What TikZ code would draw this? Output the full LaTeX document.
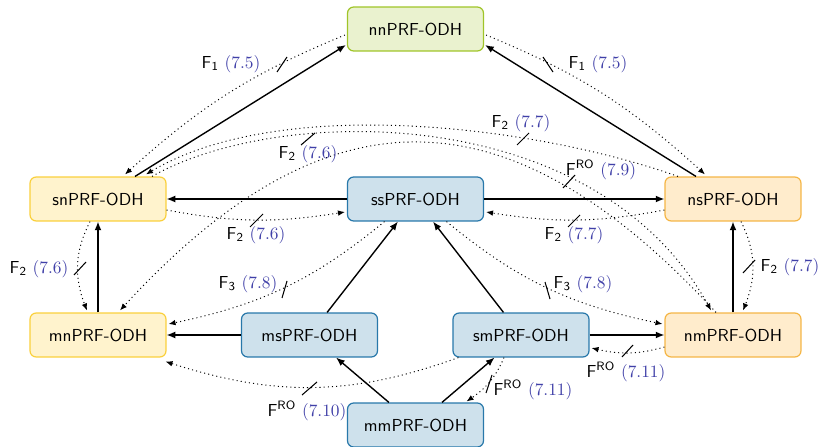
\documentclass[tikz,border=0pt]{standalone}
\usetikzlibrary{arrows.meta,calc,bending}
\definecolor{eqblue}{RGB}{64,64,168}
\definecolor{nnfill}{RGB}{234,242,207}
\definecolor{nndraw}{RGB}{160,196,40}
\definecolor{yfill}{RGB}{255,243,205}
\definecolor{ydraw}{RGB}{250,208,60}
\definecolor{ofill}{RGB}{255,236,204}
\definecolor{odraw}{RGB}{245,182,70}
\definecolor{bfill}{RGB}{206,225,236}
\definecolor{bdraw}{RGB}{40,120,170}
\newcommand{\seplab}[2]{$\mathsf{F}_{\mathsf{#1}}$\ {\color{eqblue}(#2)}}
\newcommand{\roplab}[1]{$\mathsf{F}^{\mathsf{RO}}$\ {\color{eqblue}(#1)}}
\begin{document}
\begin{tikzpicture}[x=0.576pt,y=-0.576pt,
  box/.style={draw,rounded corners=3.5pt,line width=0.7pt,minimum width=78.3pt,minimum height=25.3pt,font=\sffamily,inner sep=0pt},
  nnbox/.style={box,fill=nnfill,draw=nndraw},
  ybox/.style={box,fill=yfill,draw=ydraw},
  obox/.style={box,fill=ofill,draw=odraw},
  bbox/.style={box,fill=bfill,draw=bdraw},
  imp/.style={line width=0.8pt,-{Latex[length=5pt,width=4pt]}},
  sep/.style={line width=0.55pt,dash pattern=on 0.6pt off 1.8pt,-{Latex[length=4pt,width=3.2pt]}},
  sepmark/.style={line width=0.6pt},
  lab/.style={inner sep=0pt}]
\useasboundingbox (0,0) rectangle (820,447);
% nodes
\node[nnbox] (nn) at (415.5,29) {nnPRF-ODH};
\node[ybox] (sn) at (98,199) {snPRF-ODH};
\node[bbox] (ss) at (415.5,199) {ssPRF-ODH};
\node[obox] (ns) at (733,199) {nsPRF-ODH};
\node[ybox] (mn) at (98,335) {mnPRF-ODH};
\node[bbox] (ms) at (309.5,335) {msPRF-ODH};
\node[bbox] (sm) at (521,335) {smPRF-ODH};
\node[obox] (nm) at (733,335) {nmPRF-ODH};
\node[bbox] (mm) at (415.5,425) {mmPRF-ODH};
% implications
\draw[imp] ($(sn.north)+(37,0)$) -- ($(nn.west)+(-1,16)$);
\draw[imp] ($(ns.north)+(-37,0)$) -- ($(nn.east)+(1,16)$);
\draw[imp] (ss.west) -- (sn.east);
\draw[imp] (ss.east) -- (ns.west);
\draw[imp] (mn) -- (sn);
\draw[imp] (nm) -- (ns);
\draw[imp] (ms) -- (mn);
\draw[imp] (sm) -- (nm);
\draw[imp] (ms) -- (ss);
\draw[imp] (sm) -- (ss);
\draw[imp] (mm) -- (ms);
\draw[imp] (mm) -- (sm);
% separations
\draw[sep] ($(nn.west)+(-2,6)$) to[bend right=10] ($(sn.north)+(27,-2)$);
\draw[sep] ($(nn.east)+(2,6)$) to[bend left=10] ($(ns.north)+(-28,-2)$);
\draw[sep] ($(ns.north)+(-55,0)$) .. controls +(-140,-50) and +(130,-82) .. ($(sn.north)+(48,-2)$);
\draw[sep] ($(sn.north)+(54,0)$) .. controls +(126,-72) and +(-111,-211) .. ($(nm.north)+(-22,-2)$);
\draw[sep] ($(nm.north)+(-17,0)$) .. controls +(-209,-227) and +(204,-225) .. ($(mn.north)+(22,-2)$);
\draw[sep] ($(sn.east)+(0,11)$) to[bend right=10] ($(ss.west)+(-2,13)$);
\draw[sep] ($(ns.west)+(0,11)$) to[bend left=10] ($(ss.east)+(2,13)$);
\draw[sep] ($(sn.south)+(-8,0)$) to[bend right=25] ($(mn.north)+(-11,-2)$);
\draw[sep] ($(ns.south)+(8,0)$) to[bend left=25] ($(nm.north)+(10,-2)$);
\draw[sep] ($(ss.south)+(-31,0)$) to[bend left=14] ($(mn.east)+(2,-11)$);
\draw[sep] ($(ss.south)+(31,0)$) to[bend right=14] ($(nm.west)+(-2,-11)$);
\draw[sep] ($(sm.south west)+(6,0)$) to[bend left=19] ($(mn.south east)+(-1,4)$);
\draw[sep] ($(nm.west)+(0,12)$) to[bend left=15] ($(sm.east)+(2,13)$);
\draw[sep] ($(sm.south)+(-17,0)$) to[bend left=17] ($(mm.north)+(51,-1)$);
% separation marks
\draw[sepmark] (277,72) -- (287,57);
\draw[sepmark] (543,57) -- (553,72);
\draw[sepmark] (301,145) -- (315,133);
\draw[sepmark] (517,145) -- (529,133);
\draw[sepmark] (563,188) -- (575,175);
\draw[sepmark] (250,227) -- (263,214);
\draw[sepmark] (568,227) -- (580,215);
\draw[sepmark] (74,275) -- (86,262);
\draw[sepmark] (743,273) -- (755,260);
\draw[sepmark] (282,298) -- (287,281);
\draw[sepmark] (545,282) -- (550,299);
\draw[sepmark] (302,395) -- (317,382);
\draw[sepmark] (622,357) -- (633,345);
\draw[sepmark] (486,393) -- (492,375);
% labels
\node[lab] (l1) at (231,64) {\seplab{1}{7.5}};
\node[lab] (l2) at (598,64) {\seplab{1}{7.5}};
\node[lab] (l3) at (521,123) {\seplab{2}{7.7}};
\node[lab] (l4) at (308,154) {\seplab{2}{7.6}};
\node[lab] (l5) at (601,170) {\roplab{7.9}};
\node[lab] (l6) at (256,235) {\seplab{2}{7.6}};
\node[lab] (l7) at (574,235) {\seplab{2}{7.7}};
\node[lab] (l8) at (39,269) {\seplab{2}{7.6}};
\node[lab] (l9) at (790,267) {\seplab{2}{7.7}};
\node[lab] (l10) at (248,284) {\seplab{3}{7.8}};
\node[lab] (l11) at (583,284) {\seplab{3}{7.8}};
\node[lab] (l12) at (307,411) {\roplab{7.10}};
\node[lab] (l13) at (626,372) {\roplab{7.11}};
\node[lab] (l14) at (533,390) {\roplab{7.11}};
\end{tikzpicture}
\end{document}
